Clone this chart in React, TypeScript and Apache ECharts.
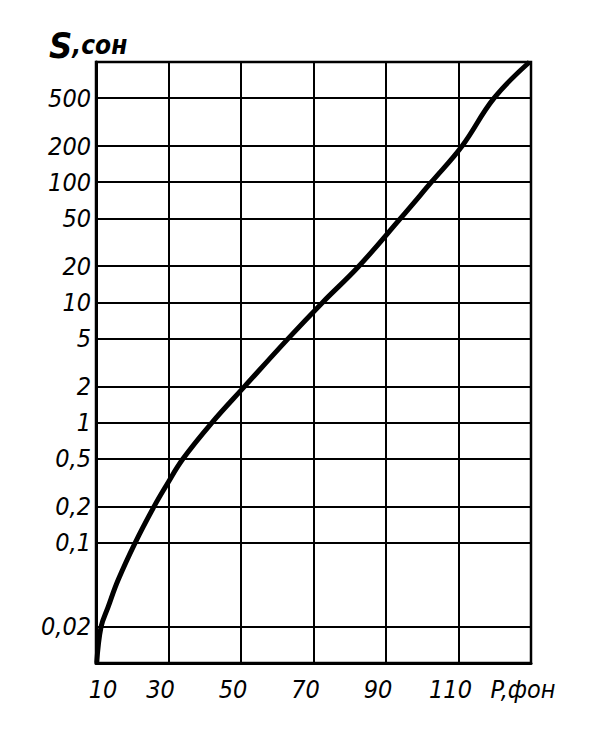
import React, { useEffect, useRef } from "react";
import * as echarts from "echarts";

// Loudness level P (phon) vs loudness S (sone)
const phon = [10.2, 11.4, 13.3, 16.1, 20.8, 26, 29.4, 34, 42, 51, 63, 72.5, 82.5, 94, 102.5, 111, 119.8, 129.6];
const sone = [0.01, 0.02, 0.029, 0.049, 0.1, 0.2, 0.3, 0.5, 1, 2, 5, 10, 20, 50, 100, 200, 500, 1000];

const yGridValues = [500, 200, 100, 50, 20, 10, 5, 2, 1, 0.5, 0.2, 0.1, 0.02];
const yTickLabels = ["500", "200", "100", "50", "20", "10", "5", "2", "1", "0,5", "0,2", "0,1", "0,02"];
const xTickValues = [10, 30, 50, 70, 90, 110, 130];
const xTickLabels = ["10", "30", "50", "70", "90", "110", "P,фон"];
const yAxisTitle = "S";
const yAxisUnit = ",сон";

const FONT = "'DejaVu Sans Condensed', 'DejaVu Sans', sans-serif";

export default function App() {
  const ref = useRef<HTMLDivElement>(null);
  useEffect(() => {
    if (!ref.current) return;
    const chart = echarts.init(ref.current, null, { renderer: "svg" });
    const labelStyle = { fontFamily: FONT, fontStyle: "italic" as const, fontSize: 25, color: "#000" };
    chart.setOption({
      animation: false,
      backgroundColor: "#fff",
      title: {
        left: 36,
        top: 14,
        text: `{s|${yAxisTitle}}{c|${yAxisUnit}}`,
        textStyle: {
          rich: {
            s: { fontFamily: FONT, fontStyle: "italic", fontWeight: "bold", fontSize: 36, color: "#000" },
            c: { fontFamily: FONT, fontStyle: "italic", fontSize: 26, color: "#000" },
          },
        },
      },
      grid: {
        left: 88,
        right: 66,
        top: 54,
        bottom: 61,
        show: true,
        borderColor: "#000",
        borderWidth: 2.5,
        backgroundColor: "transparent",
      },
      xAxis: {
        type: "value",
        min: 10,
        max: 130,
        interval: 20,
        axisLine: { show: true, lineStyle: { color: "#000", width: 3 } },
        axisTick: { show: false },
        splitLine: { show: true, lineStyle: { color: "#000", width: 2 } },
        axisLabel: {
          margin: 14,
          formatter: (v: number) => {
            const i = xTickValues.indexOf(Math.round(v));
            const t = i >= 0 ? xTickLabels[i] : "";
            return i === 0 ? `{l|${t}}` : `{r|${t}}`;
          },
          rich: {
            l: { ...labelStyle, padding: [0, 0, 0, 14] },
            r: { ...labelStyle, padding: [0, 16, 0, 0] },
          },
        },
      },
      yAxis: {
        type: "log",
        logBase: 10,
        min: 0.01,
        max: 1000,
        axisLine: { show: true, lineStyle: { color: "#000", width: 3 } },
        axisTick: { show: false },
        axisLabel: { show: false },
        splitLine: { show: false },
      },
      series: [
        {
          type: "line",
          data: phon.map((p, i) => [p, sone[i]]),
          smooth: 0.4,
          showSymbol: false,
          lineStyle: { color: "#000", width: 5 },
          markLine: {
            silent: true,
            symbol: "none",
            lineStyle: { color: "#000", width: 2, type: "solid" },
            label: { position: "start", distance: 5, ...labelStyle },
            data: yGridValues.map((v, i) => ({
              yAxis: v,
              label: { formatter: yTickLabels[i] },
            })),
          },
        },
      ],
    });
    return () => chart.dispose();
  }, []);
  return <div ref={ref} style={{ width: 589, height: 716 }} />;
}
